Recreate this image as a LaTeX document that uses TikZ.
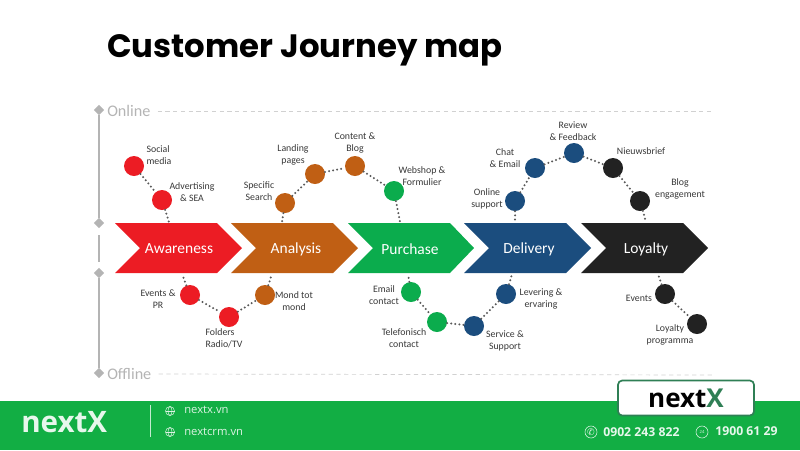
\documentclass[tikz,border=0pt]{standalone}
\usepackage{fontspec}
\setmainfont{Carlito}
\newfontfamily\titlefont{Poppins}
\newfontfamily\footfont{Open Sans}
\newfontfamily\symfont{DejaVu Sans}
\usetikzlibrary{shapes.geometric}
\definecolor{redc}{HTML}{EC1C24}
\definecolor{orangec}{HTML}{C05F14}
\definecolor{greenc}{HTML}{0BAC4D}
\definecolor{bluec}{HTML}{1B4D7E}
\definecolor{blackc}{HTML}{222222}
\definecolor{footc}{HTML}{12AE44}
\definecolor{axisc}{HTML}{B4B4B4}
\definecolor{boxc}{HTML}{2F7F55}
\tikzset{
  stage/.style={circle,minimum size=0.5cm,inner sep=0pt},
  lab/.style={align=center,text=black!78,font=\fontsize{7}{8.6}\selectfont,inner sep=0pt},
  banner/.style={text=white,font=\fontsize{11}{13}\selectfont,inner sep=0pt},
  link/.style={draw=black!65,line width=1.6pt,line cap=round,dash pattern=on 0pt off 2.9pt},
  axisline/.style={draw=axisc,line width=1.5pt},
  axismark/.style={diamond,fill=axisc,minimum size=0.26cm,inner sep=0pt},
  axistext/.style={text=axisc,font=\fontsize{11.5}{13}\selectfont,anchor=west,inner sep=0pt},
  guide/.style={draw=black!18,line width=0.5pt,dash pattern=on 3pt off 2.5pt},
  foottext/.style={text=white!85!footc,anchor=west,inner sep=0pt,font=\footfont\fontsize{8}{9}\selectfont},
  footnum/.style={text=white!90!footc,anchor=west,inner sep=0pt,font=\footfont\bfseries\fontsize{8.7}{10}\selectfont},
  globe/.style={draw=white!85!footc,line width=0.35pt},
  callicon/.style={circle,draw=white!85!footc,line width=0.4pt,minimum size=0.3cm,inner sep=0pt,text=white!85!footc}
}
\begin{document}
\begin{tikzpicture}[x=0.025cm,y=-0.025cm]
\useasboundingbox (0,0) rectangle (800,450);

\node[anchor=west,inner sep=0pt,font=\titlefont\bfseries\fontsize{23}{28}\selectfont] (title) at (107,50) {Customer Journey map};

\node[axismark] (top) at (99,110) {};
\node[axismark] (upper) at (99,223) {};
\node[axismark] (lower) at (99,273) {};
\node[axismark] (bottom) at (99,373) {};
\coordinate (gapa) at (99,235);
\coordinate (gapb) at (99,262);
\draw[axisline] (top) -- (upper);
\draw[axisline] (gapa) -- (gapb);
\draw[axisline] (lower) -- (bottom);

\node[axistext] (online) at (107,111) {Online};
\node[axistext] (offline) at (107,374) {Offline};
\coordinate (onlineend) at (712,111);
\coordinate (offlineend) at (712,375);
\draw[guide] (online.east) ++(7,0) -- (onlineend);
\draw[guide] (offline.east) ++(7,0) -- (offlineend);

\fill[redc] (115,223) -- (217,223) -- (242,248) -- (217,273) -- (115,273) -- (140,248) -- cycle;
\fill[orangec] (231,223) -- (333,223) -- (358,248) -- (333,273) -- (231,273) -- (256,248) -- cycle;
\fill[greenc] (348,223) -- (450,223) -- (474,248) -- (450,273) -- (348,273) -- (373,248) -- cycle;
\fill[bluec] (464,223) -- (566,223) -- (591,248) -- (566,273) -- (464,273) -- (489,248) -- cycle;
\fill[blackc] (581,223) -- (683,223) -- (708,248) -- (683,273) -- (581,273) -- (606,248) -- cycle;

\node[banner] (awareness) at (179,249) {Awareness};
\node[banner] (analysis) at (296,249) {Analysis};
\node[banner] (purchase) at (410,249) {Purchase};
\node[banner] (delivery) at (529,249) {Delivery};
\node[banner] (loyalty) at (646,249) {Loyalty};

\node[stage,fill=redc] (social) at (134,166) {};
\node[stage,fill=redc] (advertising) at (162,200) {};
\node[stage,fill=orangec] (specific) at (285,203) {};
\node[stage,fill=orangec] (landing) at (315,174) {};
\node[stage,fill=orangec] (content) at (355,166) {};
\node[stage,fill=greenc] (webshop) at (394,191) {};
\node[stage,fill=bluec] (support) at (515,201) {};
\node[stage,fill=bluec] (chat) at (535,168) {};
\node[stage,fill=bluec] (review) at (574,153) {};
\node[stage,fill=blackc] (nieuws) at (613,168) {};
\node[stage,fill=blackc] (blog) at (640,201) {};
\node[stage,fill=redc] (eventspr) at (190,295) {};
\node[stage,fill=redc] (folders) at (229,317) {};
\node[stage,fill=orangec] (mond) at (265,295) {};
\node[stage,fill=greenc] (email) at (411,292) {};
\node[stage,fill=greenc] (telefoon) at (437,322) {};
\node[stage,fill=bluec] (service) at (474,326) {};
\node[stage,fill=bluec] (levering) at (506,294) {};
\node[stage,fill=blackc] (events) at (665,294) {};
\node[stage,fill=blackc] (programma) at (697,324) {};

\coordinate (stuba) at (169,222);
\coordinate (stubb) at (282,222);
\coordinate (stubc) at (400,222);
\coordinate (stubd) at (515,222);
\coordinate (stube) at (646,222);
\coordinate (stubf) at (182,274);
\coordinate (stubg) at (272,274);
\coordinate (stubh) at (408,274);
\coordinate (stubi) at (512,274);
\coordinate (stubj) at (658,274);

\draw[link] (social) -- (advertising);
\draw[link] (advertising) -- (stuba);
\draw[link] (specific) -- (stubb);
\draw[link] (specific) -- (landing);
\draw[link] (landing) -- (content);
\draw[link] (content) -- (webshop);
\draw[link] (webshop) -- (stubc);
\draw[link] (support) -- (stubd);
\draw[link] (support) -- (chat);
\draw[link] (chat) -- (review);
\draw[link] (review) -- (nieuws);
\draw[link] (nieuws) -- (blog);
\draw[link] (blog) -- (stube);
\draw[link] (eventspr) -- (stubf);
\draw[link] (eventspr) -- (folders);
\draw[link] (folders) -- (mond);
\draw[link] (mond) -- (stubg);
\draw[link] (email) -- (stubh);
\draw[link] (email) -- (telefoon);
\draw[link] (telefoon) -- (service);
\draw[link] (service) -- (levering);
\draw[link] (levering) -- (stubi);
\draw[link] (events) -- (stubj);
\draw[link] (events) -- (programma);

\node[lab,align=left] (lsocial) at (159,155) {Social\\media};
\node[lab] (ladvertising) at (192,192) {Advertising\\\& SEA};
\node[lab] (lspecific) at (259,191) {Specific\\Search};
\node[lab] (llanding) at (293,155) {Landing\\pages};
\node[lab] (lcontent) at (355,143) {Content \&\\Blog};
\node[lab] (lwebshop) at (422,176) {Webshop \&\\Formulier};
\node[lab] (lsupport) at (487,199) {Online\\support};
\node[lab] (lchat) at (505,158) {Chat\\\& Email};
\node[lab] (lreview) at (573,131) {Review\\\& Feedback};
\node[lab] (lnieuws) at (641,151) {Nieuwsbrief};
\node[lab] (lblog) at (680,189) {Blog\\engagement};
\node[lab] (leventspr) at (158,299) {Events \&\\PR};
\node[lab,align=left] (lfolders) at (224,338) {Folders\\Radio/TV};
\node[lab] (lmond) at (294,301) {Mond tot\\mond};
\node[lab] (lemail) at (384,295) {Email\\contact};
\node[lab] (ltelefoon) at (404,338) {Telefonisch\\contact};
\node[lab] (lservice) at (505,341) {Service \&\\Support};
\node[lab] (llevering) at (541,299) {Levering \&\\ervaring};
\node[lab] (levents) at (639,298) {Events};
\node[lab] (lprogramma) at (670,335) {Loyalty\\programma};

\fill[footc] (0,401) rectangle (800,450);
\node[anchor=west,inner sep=0pt,text=white!90!footc,font=\footfont\bfseries\fontsize{21}{25}\selectfont] (brand) at (21,422) {nextX};
\coordinate (bara) at (150,405);
\coordinate (barb) at (150,437);
\draw[draw=white!75!footc,line width=0.7pt] (bara) -- (barb);

\draw[globe] (170,411) circle (4.5);
\draw[globe] (170,411) ellipse (2 and 4.5);
\draw[globe] (165.5,411) -- (174.5,411);
\draw[globe] (170,432) circle (4.5);
\draw[globe] (170,432) ellipse (2 and 4.5);
\draw[globe] (165.5,432) -- (174.5,432);
\node[foottext] (siteone) at (184,410) {nextx.vn};
\node[foottext] (sitetwo) at (184,432) {nextcrm.vn};

\node[draw=boxc,line width=1.2pt,fill=white,rounded corners=3pt,minimum width=3.4cm,minimum height=0.875cm,inner sep=0pt,font=\footfont\bfseries\fontsize{18.5}{22}\selectfont] (logo) at (686,398) {next\textcolor{boxc}{X}};

\node[callicon,font=\symfont\fontsize{6.5}{7}\selectfont] (phone) at (591,432) {\char"2706};
\node[footnum] (phonetext) at (603,432.5) {0902 243 822};
\node[callicon,font=\footfont\fontsize{3}{3}\selectfont] (hotline) at (702,432) {24};
\node[footnum] (hotlinetext) at (715,431.5) {1900 61 29};
\end{tikzpicture}
\end{document}
